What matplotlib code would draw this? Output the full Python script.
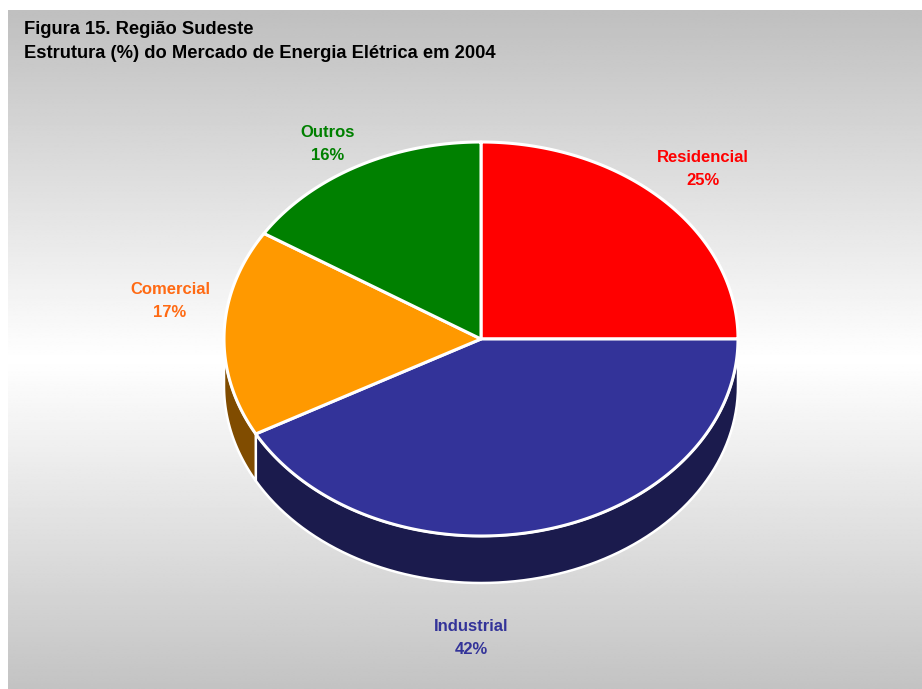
import numpy as np
import matplotlib
matplotlib.use("Agg")
import matplotlib.pyplot as plt
from matplotlib.patches import Polygon

plt.rcParams['font.family'] = ['Liberation Sans', 'DejaVu Sans']

# Market structure data
categories = ["Residencial", "Industrial", "Comercial", "Outros"]
shares = [25, 42, 17, 16]
top_colors = ["#ff0000", "#333399", "#ff9900", "#008000"]
side_colors = ["#800000", "#1b1b4d", "#804c00", "#004000"]
label_colors = ["#ff0000", "#333399", "#ff6a13", "#008000"]

title_lines = ["Figura 15. Região Sudeste",
               "Estrutura (%) do Mercado de Energia Elétrica em 2004"]

W, H = 922, 689
fig = plt.figure(figsize=(W / 100, H / 100), dpi=100)
ax = fig.add_axes([0, 0, 1, 1])
ax.set_xlim(0, W)
ax.set_ylim(H, 0)
ax.axis("off")

# Background panel with a vertical grey-white-grey gradient
px0, py0, px1, py1 = 8, 10, 921, 689
ys = np.linspace(py0, py1, 400)
ymid = 360
val = np.where(ys < ymid,
               0.75 + 0.25 * (ys - py0) / (ymid - py0),
               1.0 - 0.235 * (ys - ymid) / (py1 - ymid))
val = np.clip(val, 0, 1)
grad = np.repeat(val[:, None], 2, axis=1)
ax.imshow(grad, cmap="gray", vmin=0, vmax=1, extent=[px0, px1, py1, py0],
          aspect="auto", interpolation="bilinear", zorder=0)

# Pie geometry (elliptical top face with a front wall)
cx, cy = 481, 339
rx, ry = 257, 197
depth = 47

def pt(t_deg, dy=0.0):
    t = np.radians(t_deg)
    return cx + rx * np.cos(t), cy - ry * np.sin(t) + dy

fracs = np.array(shares, dtype=float) / sum(shares)
bounds = 90 - 360 * np.concatenate([[0], np.cumsum(fracs)])

# Front walls
for i in range(len(shares)):
    a0, a1 = bounds[i], bounds[i + 1]   # a0 > a1 (clockwise)
    for shift in (0, 360, -360):
        lo = max(a1 + shift, -180)
        hi = min(a0 + shift, 0)
        if hi > lo:
            ts = np.linspace(hi, lo, 80)
            top = [pt(t) for t in ts]
            bot = [pt(t, depth) for t in ts[::-1]]
            ax.add_patch(Polygon(top + bot, closed=True, facecolor=side_colors[i],
                                 edgecolor="white", linewidth=1.8, zorder=2,
                                 joinstyle="round"))

# Top face slices
for i in range(len(shares)):
    a0, a1 = bounds[i], bounds[i + 1]
    ts = np.linspace(a0, a1, 200)
    verts = [(cx, cy)] + [pt(t) for t in ts]
    ax.add_patch(Polygon(verts, closed=True, facecolor=top_colors[i],
                         edgecolor="white", linewidth=2.2, zorder=3,
                         joinstyle="round"))

# Slice labels
label_pos = {"Residencial": (703, 169), "Industrial": (471, 638),
             "Comercial": (170, 301), "Outros": (328, 144)}
for name, val_, col in zip(categories, shares, label_colors):
    x, y = label_pos[name]
    ax.text(x, y, f"{name}\n{val_}%", color=col, fontsize=12,
            fontweight="bold", ha="center", va="center", linespacing=1.7,
            zorder=5)

# Title
ax.text(24, 30, title_lines[0], fontsize=13.2, fontweight="bold",
        ha="left", va="center", color="black", zorder=5)
ax.text(24, 53, title_lines[1], fontsize=13.2, fontweight="bold",
        ha="left", va="center", color="black", zorder=5)

fig.savefig("out.png", dpi=100, facecolor="white")
